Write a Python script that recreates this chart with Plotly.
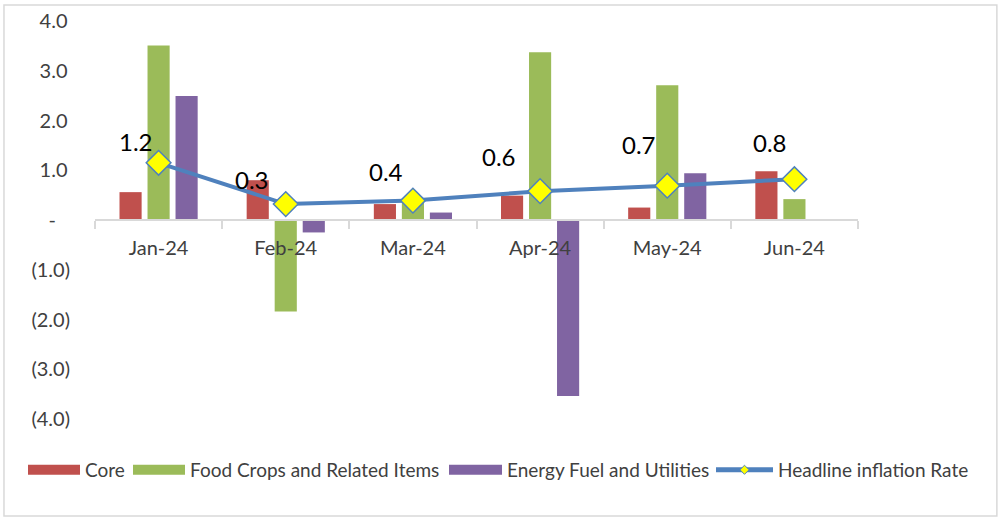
import plotly.graph_objects as go

months = ["Jan-24", "Feb-24", "Mar-24", "Apr-24", "May-24", "Jun-24"]
core = [0.56, 0.80, 0.32, 0.49, 0.25, 0.98]
food = [3.51, -1.84, 0.35, 3.37, 2.71, 0.42]
energy = [2.49, -0.25, 0.15, -3.54, 0.94, None]
headline = [1.15, 0.32, 0.39, 0.58, 0.69, 0.82]
headline_labels = ["1.2", "0.3", "0.4", "0.6", "0.7", "0.8"]

y_tickvals = [4, 3, 2, 1, 0, -1, -2, -3, -4]
y_ticktext = ["4.0\u2009", "3.0\u2009", "2.0\u2009", "1.0\u2009", "-\u2007\u2009",
              "(1.0)", "(2.0)", "(3.0)", "(4.0)"]

C_CORE = "#C0504D"
C_FOOD = "#9BBB59"
C_ENERGY = "#8064A2"
C_LINE = "#4F81BD"
FONT = "Lato"

# label offsets (style only)
label_dx = [-23, -34, -27, -41, -28, -24]
label_dy = [21, 25, 29, 35, 41, 37]

fig = go.Figure()
for name, vals, col in [("Core", core, C_CORE),
                        ("Food Crops and Related Items", food, C_FOOD),
                        ("Energy Fuel and Utilities", energy, C_ENERGY)]:
    fig.add_trace(go.Bar(x=months, y=vals, name=name, marker_color=col,
                         marker_line_width=0, showlegend=False))

fig.add_trace(go.Scatter(x=months, y=headline, mode="lines+markers",
                         name="Headline inflation Rate",
                         line=dict(color=C_LINE, width=4),
                         marker=dict(symbol="diamond", size=19, color="#FFFF00",
                                     line=dict(color=C_LINE, width=1.5)),
                         showlegend=False))

# legend proxies, each in its own legend box
for name, col, lg in [("Core", C_CORE, "legend"),
                      ("Food Crops and Related Items", C_FOOD, "legend2"),
                      ("Energy Fuel and Utilities", C_ENERGY, "legend3")]:
    fig.add_trace(go.Scatter(x=[None], y=[None], mode="lines", name=name,
                             line=dict(color=col, width=12), legend=lg))
fig.add_trace(go.Scatter(x=[None], y=[None], mode="lines+markers",
                         name="Headline inflation Rate", legend="legend4",
                         line=dict(color=C_LINE, width=5),
                         marker=dict(symbol="diamond", size=7, color="#FFFF00",
                                     line=dict(color=C_LINE, width=1))))

for m, v, t, dx, dy in zip(months, headline, headline_labels, label_dx, label_dy):
    fig.add_annotation(x=m, y=v, text=t, showarrow=False, xshift=dx, yshift=dy,
                       font=dict(family=FONT, size=24, color="#000000"))

# outer border
fig.add_shape(type="rect", xref="paper", yref="paper",
              x0=-0.1193, x1=1.182, y0=-0.2437, y1=1.040,
              line=dict(color="#D9D9D9", width=1.5), fillcolor="rgba(0,0,0,0)")

def leg(px, iw=52):
    return dict(orientation="h", x=(px - 95 - 5) / 763, xanchor="left", y=-0.128,
                yanchor="middle", font=dict(family=FONT, size=19, color="#404040"),
                itemwidth=iw, bgcolor="rgba(0,0,0,0)")

fig.update_layout(
    width=1002, height=519,
    margin=dict(l=95, r=144, t=21, b=100, autoexpand=False),
    paper_bgcolor="white", plot_bgcolor="white",
    barmode="group", bargap=0.339, bargroupgap=0.21,
    font=dict(family=FONT, size=20, color="#404040"),
    xaxis=dict(anchor="free", position=0.5, showline=True, linecolor="#D9D9D9",
               linewidth=1.5, ticks="outside", tickson="boundaries", ticklen=8,
               tickcolor="#D9D9D9", tickwidth=1.5, showgrid=False,
               ticklabelstandoff=10,
               tickfont=dict(family=FONT, size=20, color="#404040")),
    yaxis=dict(range=[-4, 4], tickvals=y_tickvals, ticktext=y_ticktext,
               showgrid=False, zeroline=False, showline=False, ticks="",
               ticklabelstandoff=24,
               tickfont=dict(family=FONT, size=20, color="#404040")),
    legend=leg(28), legend2=leg(133), legend3=leg(449, 53), legend4=leg(716, 57),
    showlegend=True,
)

fig.write_html("out.html", config={"displayModeBar": False},
               post_script="document.body.style.margin='0';")
